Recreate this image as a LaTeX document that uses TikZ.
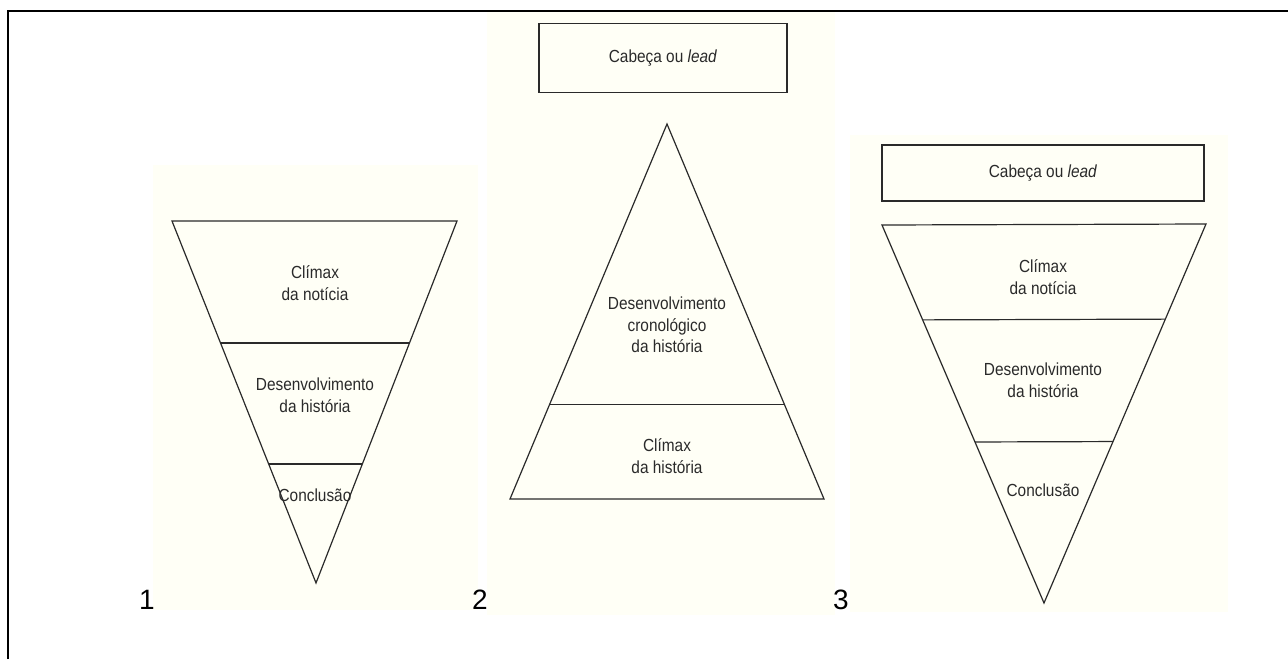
\documentclass[tikz,border=0pt]{standalone}
\usepackage{fontspec}
\setmainfont{Liberation Sans}
\newfontfamily\condfont[FakeStretch=0.88]{Liberation Sans}
\usetikzlibrary{calc}
\definecolor{ink}{HTML}{2A2A2A}
\definecolor{paper}{HTML}{FFFFF6}
\begin{document}
\begin{tikzpicture}[x=1pt,y=-1pt,
  lbl/.style={font=\condfont\fontsize{17.5}{21.5}\selectfont, text=ink, align=center, inner sep=0pt},
  shapeline/.style={draw=ink, line width=1.2pt, line join=miter},
  leadbox/.style={shapeline, lbl, rectangle},
  num/.style={font=\fontsize{28}{32}\selectfont, inner sep=0pt}]
\useasboundingbox (0,0) rectangle (1288,659);
% scanned paper backgrounds
\fill[paper] (153,165) rectangle (478,610);
\fill[paper] (487,12) rectangle (835,615);
\fill[paper] (850,135) rectangle (1228,612);
% frame
\draw[line width=2.5pt] (8,659) -- (8,11) -- (1288,11);

% ---------- diagram 1 ----------
\coordinate (a1) at (172,221);
\coordinate (b1) at (457,221);
\coordinate (c1) at (316,583);
\draw[shapeline] (a1) -- (b1) -- (c1) -- cycle;
\draw[shapeline] ($(a1)!0.337!(c1)$) -- ($(b1)!0.337!(c1)$);
\draw[shapeline] ($(a1)!0.671!(c1)$) -- ($(b1)!0.671!(c1)$);
\node[lbl] (clim1) at (315,283) {Clímax\\da notícia};
\node[lbl] (des1) at (315,395) {Desenvolvimento\\da história};
\node[lbl] (con1) at (315,495) {Conclusão};
\node[num] (n1) at (147,600) {1};

% ---------- diagram 2 ----------
\node[leadbox, minimum width=248pt, minimum height=69pt] (lead2) at (663,58) {Cabeça ou \textit{lead}};
\coordinate (a2) at (667,124);
\coordinate (b2) at (510,499);
\coordinate (c2) at (824,499);
\draw[shapeline] (a2) -- (c2) -- (b2) -- cycle;
\draw[shapeline] ($(a2)!0.749!(b2)$) -- ($(a2)!0.749!(c2)$);
\node[lbl] (des2) at (667,325) {Desenvolvimento\\cronológico\\da história};
\node[lbl] (clim2) at (667,456) {Clímax\\da história};
\node[num] (n2) at (480,600) {2};

% ---------- diagram 3 ----------
\node[leadbox, minimum width=322pt, minimum height=56pt] (lead3) at (1043,173) {Cabeça ou \textit{lead}};
\coordinate (a3) at (882,225);
\coordinate (b3) at (1206,224);
\coordinate (c3) at (1044,603);
\draw[shapeline] (a3) -- (b3) -- (c3) -- cycle;
\draw[shapeline] ($(a3)!0.251!(c3)$) -- ($(b3)!0.251!(c3)$);
\draw[shapeline] ($(a3)!0.574!(c3)$) -- ($(b3)!0.574!(c3)$);
\node[lbl] (clim3) at (1043,277) {Clímax\\da notícia};
\node[lbl] (des3) at (1043,380) {Desenvolvimento\\da história};
\node[lbl] (con3) at (1043,490) {Conclusão};
\node[num] (n3) at (841,600) {3};
\end{tikzpicture}
\end{document}
